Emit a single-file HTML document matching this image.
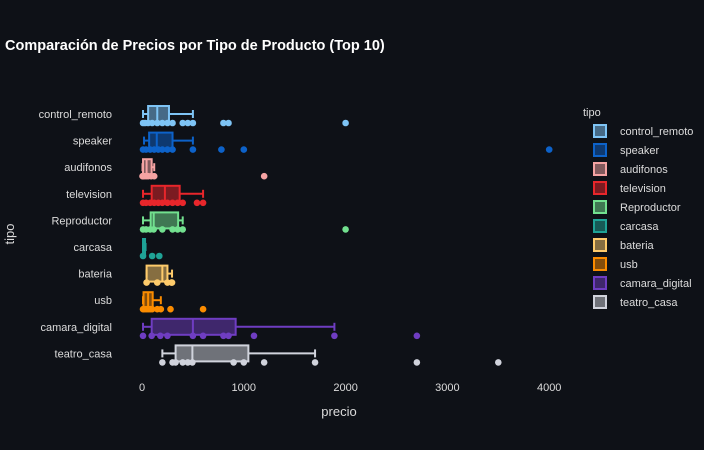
<!DOCTYPE html>
<html><head><meta charset="utf-8"><style>
html,body{margin:0;padding:0;background:#0e1117;}
svg{display:block;font-family:"Liberation Sans",sans-serif;}
</style></head><body>
<svg id="chart" width="704" height="450">
<rect width="704" height="450" fill="#0e1117"/>
<text x="5" y="50" fill="#ffffff" font-size="14.5" font-weight="bold">Comparación de Precios por Tipo de Producto (Top 10)</text>
<text x="339" y="416" fill="#dcdcdc" font-size="13" text-anchor="middle">precio</text>
<text x="14" y="234" fill="#dcdcdc" font-size="13" text-anchor="middle" transform="rotate(-90 14 234)">tipo</text>
<text x="583" y="116" fill="#dcdcdc" font-size="11">tipo</text>
<g id="plot"></g><g id="legend"></g>
</svg>
<script>
const categories=["control_remoto","speaker","audifonos","television","Reproductor","carcasa","bateria","usb","camara_digital","teatro_casa"];
const colors=["#7ec4f5","#0d62c9","#f5a3a3","#e8262b","#72e08f","#1fa396","#fecb6b","#fb8c00","#6f3dc2","#d0d3dc"];
const lowW=[10,20,5,10,10,10,45,10,10,200];
const q1=[60,70,10,95,85,10,45,15,95,330];
const med=[150,145,45,225,115,20,200,60,500,495];
const q3=[265,300,95,370,355,30,250,105,920,1045];
const highW=[500,500,120,600,400,35,295,185,1890,1700];
const points=[
[10,30,60,100,150,200,250,300,400,450,500,800,850,2000],
[10,40,80,120,160,200,250,300,500,780,1000,4000],
[5,10,20,40,60,90,120,1200],
[10,40,80,120,160,200,250,300,350,400,540,600],
[10,40,80,115,200,300,350,400,2000],
[10,100,170],
[45,150,250,295,290],
[10,20,40,60,80,100,150,185,280,600],
[10,95,180,250,500,600,800,850,1100,1890,2700],
[200,300,330,400,450,495,900,1000,1200,1700,2700,3500]
];
const xTicks=[0,1000,2000,3000,4000];
const NS="http://www.w3.org/2000/svg";
const xs=v=>142+v*0.1018;
const ys=i=>114+i*26.6;
const plot=document.getElementById('plot');
function mk(tag,a,parent){const e=document.createElementNS(NS,tag);for(const k in a)e.setAttribute(k,a[k]);parent.appendChild(e);return e;}
xTicks.forEach(t=>{const e=mk('text',{x:xs(t),y:391,fill:'#dcdcdc','font-size':11,'text-anchor':'middle'},plot);e.textContent=t;

});
categories.forEach((c,i)=>{
  const y=ys(i),col=colors[i];
  const lb=mk('text',{x:112,y:y+4,fill:'#dcdcdc','font-size':11,'text-anchor':'end'},plot);lb.textContent=c;
  
  
  const g=mk('g',{},plot);
  
  
  const h=8;
  mk('line',{x1:xs(lowW[i]),x2:xs(q1[i]),y1:y,y2:y,stroke:col,'stroke-width':2},g);
  mk('line',{x1:xs(q3[i]),x2:xs(highW[i]),y1:y,y2:y,stroke:col,'stroke-width':2},g);
  mk('line',{x1:xs(lowW[i]),x2:xs(lowW[i]),y1:y-4,y2:y+4,stroke:col,'stroke-width':2},g);
  mk('line',{x1:xs(highW[i]),x2:xs(highW[i]),y1:y-4,y2:y+4,stroke:col,'stroke-width':2},g);
  mk('rect',{x:xs(q1[i]),y:y-h,width:Math.max(xs(q3[i])-xs(q1[i]),1),height:2*h,fill:col,'fill-opacity':0.5,stroke:col,'stroke-width':2},g);
  mk('line',{x1:xs(med[i]),x2:xs(med[i]),y1:y-h,y2:y+h,stroke:col,'stroke-width':2},g);
  points[i].forEach(p=>{const d=mk('circle',{cx:xs(p),cy:y+9,r:3.3,fill:col},g);
    
    });
});
const lg=document.getElementById('legend');
categories.forEach((c,i)=>{
  const y=131+i*19;
  const g=mk('g',{},lg);
  
  
  mk('rect',{x:594,y:y-6,width:12,height:12,fill:colors[i],'fill-opacity':0.5,stroke:colors[i],'stroke-width':2},g);
  const t=mk('text',{x:620,y:y+4,fill:'#dcdcdc','font-size':11},g);t.textContent=c;
});
</script>
</body></html>
